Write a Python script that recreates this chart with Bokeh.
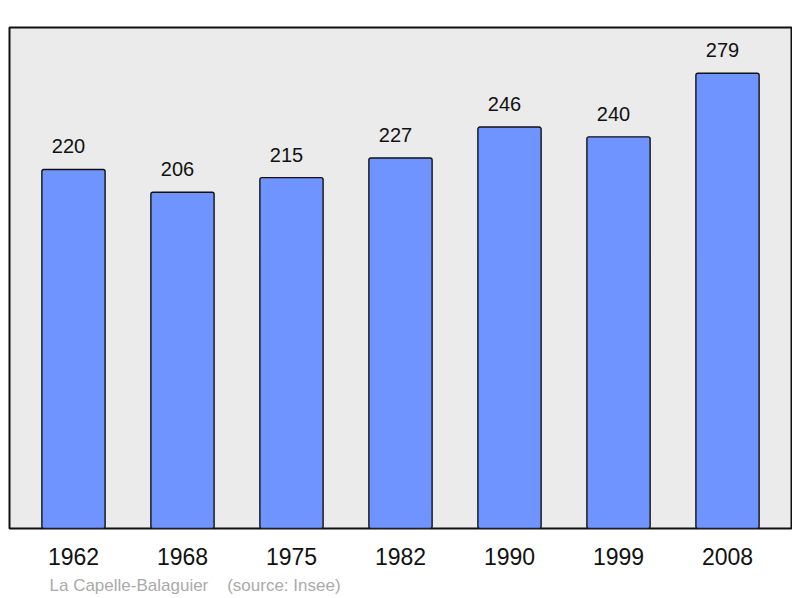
from bokeh.plotting import figure
from bokeh.models import ColumnDataSource, FactorRange, Range1d, Title
from bokeh.embed import file_html
from bokeh.resources import INLINE
from bokeh.core.properties import value

years = ["1962", "1968", "1975", "1982", "1990", "1999", "2008"]
population = [220, 206, 215, 227, 246, 240, 279]
place = "La Capelle-Balaguier"
source_note = "(source: Insee)"

FONT = "Liberation Sans"

src = ColumnDataSource(dict(year=years, pop=population, label=[str(v) for v in population]))

p = figure(
    x_range=FactorRange(factors=years, range_padding=0.087, range_padding_units="absolute"),
    y_range=Range1d(0, 307),
    frame_width=782, frame_height=501,
    min_border_left=9, min_border_right=1, min_border_top=27, min_border_bottom=0,
    output_backend="svg", toolbar_location=None,
    background_fill_color="#ebebeb", border_fill_color="white",
)

p.outline_line_color = "#111111"
p.outline_line_width = 2
p.grid.visible = False
p.yaxis.visible = False

xa = p.xaxis[0]
xa.axis_line_color = None
xa.major_tick_line_color = None
xa.minor_tick_line_color = None
xa.major_label_text_font = FONT
xa.major_label_text_font_size = "23px"
xa.major_label_text_color = "#111111"
xa.major_label_standoff = 13

p.vbar(x="year", top="pop", width=0.58, source=src,
       fill_color="#7094ff", line_color="#111111", line_width=1.4,
       border_radius=2)

p.text(x="year", y="pop", text="label", source=src,
       text_font=value(FONT), text_font_size="20px", text_color="#111111",
       text_align="center", text_baseline="alphabetic", x_offset=-5, y_offset=-23)

title = Title(text=place + "\u00a0\u00a0\u00a0\u00a0" + source_note, align="left", offset=40,
              standoff=12,
              text_font=FONT, text_font_size="17px", text_font_style="normal",
              text_color="#aaaaaa")
p.add_layout(title, "below")

open("out.html", "w").write(file_html(p, INLINE))
